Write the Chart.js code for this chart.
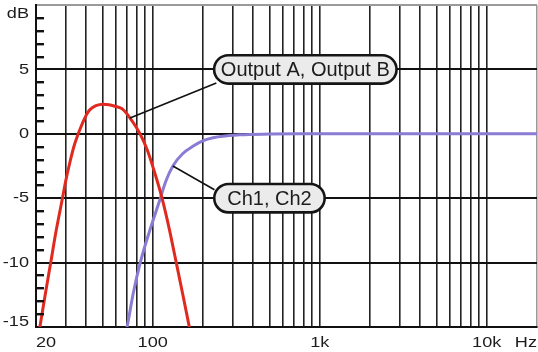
<!DOCTYPE html>
<html>
<head>
<meta charset="utf-8">
<script src="https://cdn.jsdelivr.net/npm/chart.js@4"></script>
<style>
  html, body { margin: 0; padding: 0; background: #ffffff; }
  canvas { display: block; }
</style>
</head>
<body>
<canvas id="fr" width="538" height="352"></canvas>
<script>
// Series names (also used as callout text)
const seriesNames = ['Output A, Output B', 'Ch1, Ch2'];

// Band-pass response of the outputs
const outFreq = [20, 21.1, 22.6, 24.5, 26.3, 28.8, 30.2, 32.0, 33.8, 35.8, 37.2, 38.8, 40.4, 42.1, 45.7, 50.4,
                 54.7, 59.4, 65.2, 70.1, 73.1, 76.2, 83.9, 92.4, 101.8, 113.2, 125.2, 137.8, 151.8, 165.6, 181.6];
const outDb   = [-16.9, -15, -12.65, -10, -7.65, -5, -3.6, -2.15, -0.95, 0, 0.55, 1.1, 1.55, 1.88, 2.18, 2.3,
                 2.26, 2.14, 1.96, 1.55, 1.22, 0.9, 0, -1.2, -2.85, -4.9, -7.3, -9.9, -12.55, -15, -17.6];

// High-pass response of the channels
const chFreq = [63.4, 70.2, 76.4, 84.2, 96, 110.5, 119.6, 132, 151, 175, 199, 230, 333, 504, 762, 1500, 20000];
const chDb   = [-17.5, -15, -12.4, -10, -7.5, -5.1, -3.7, -2.5, -1.55, -0.95, -0.55, -0.3, -0.08, -0.02, 0, 0, 0];

// Axis ticks and labels
const freqGrid   = [30, 40, 50, 60, 70, 80, 90, 100, 200, 300, 400, 500, 600, 700, 800, 900,
                    1000, 2000, 3000, 4000, 5000, 6000, 7000, 8000, 9000, 10000, 20000];
const freqLabelValues = [20, 100, 1000, 10000];
const freqLabels      = ['20', '100', '1k', '10k'];
const freqUnit = 'Hz';
const dbTicks  = [-15, -10, -5, 0, 5, 10];
const dbLabels = ['-15', '-10', '-5', '0', '5', 'dB'];

const INK = '#1c1c1c';
const EDGE = '#9a9a9a';

function pts(xs, ys) { return xs.map((x, i) => ({ x: x, y: ys[i] })); }

function stretchedText(ctx, text, x, y, align, sx) {
  ctx.save();
  ctx.translate(x, y);
  ctx.scale(sx, 1);
  ctx.textAlign = align;
  ctx.textBaseline = 'middle';
  ctx.fillText(text, 0, 0);
  ctx.restore();
}

// Axis labels and small 1 dB ticks inside the plot
const axisDecor = {
  id: 'axisDecor',
  afterDatasetsDraw(chart) {
    const { ctx, chartArea: a, scales: { y } } = chart;
    ctx.save();
    ctx.strokeStyle = '#111';
    ctx.lineWidth = 2.4;
    for (let v = -14; v <= 9; v++) {
      if (v % 5 === 0) continue;
      const py = Math.round(y.getPixelForValue(v)) + 0.2;
      ctx.beginPath();
      ctx.moveTo(a.left, py);
      ctx.lineTo(a.left + 8, py);
      ctx.stroke();
    }
    ctx.restore();
  },
  afterDraw(chart) {
    const { ctx, chartArea: a, scales: { x, y } } = chart;
    ctx.save();
    ctx.fillStyle = INK;
    ctx.font = '15.5px "Liberation Sans", Arial, sans-serif';
    const sx = 1.17;
    dbTicks.forEach((v, i) => {
      let py = y.getPixelForValue(v);
      py = Math.min(Math.max(py, a.top + 9), a.bottom - 5);
      stretchedText(ctx, dbLabels[i], a.left - 7, py, 'right', sx);
    });
    const ly = a.bottom + 15.5;
    freqLabelValues.forEach((v, i) => {
      const px = x.getPixelForValue(v);
      if (i === 0) stretchedText(ctx, freqLabels[i], a.left, ly, 'left', sx);
      else stretchedText(ctx, freqLabels[i], px, ly, 'center', sx);
    });
    stretchedText(ctx, freqUnit, a.right, ly, 'right', sx);
    ctx.restore();
  }
};

// Rounded label boxes with leader lines to the curves
const callouts = [
  { dataset: 0, pointIndex: 20, at: { x: 820, y: 5 },  w: 185, h: 31, lead: { dx: -89, dy: 13.5 } },
  { dataset: 1, pointIndex: 7,  at: { x: 500, y: -5 }, w: 113, h: 31, lead: { dx: -55, dy: -8.5 } }
];

const calloutPlugin = {
  id: 'callouts',
  afterDatasetsDraw(chart) {
    const { ctx, scales: { x, y } } = chart;
    ctx.save();
    callouts.forEach(c => {
      const p = chart.getDatasetMeta(c.dataset).data[c.pointIndex];
      const cx = x.getPixelForValue(c.at.x);
      const cy = y.getPixelForValue(c.at.y);
      // leader
      ctx.strokeStyle = '#111';
      ctx.lineWidth = 1.6;
      ctx.beginPath();
      ctx.moveTo(p.x, p.y);
      ctx.lineTo(cx + c.lead.dx, cy + c.lead.dy);
      ctx.stroke();
      // pill box
      const lw = 2.6;
      const w = c.w - lw, h = c.h - lw, r = h / 2;
      ctx.beginPath();
      ctx.roundRect(cx - w / 2, cy - h / 2, w, h, r);
      ctx.fillStyle = '#ebebeb';
      ctx.fill();
      ctx.lineWidth = lw;
      ctx.strokeStyle = '#151515';
      ctx.stroke();
      // text
      ctx.fillStyle = INK;
      ctx.font = '20px "Liberation Sans", Arial, sans-serif';
      ctx.textAlign = 'center';
      ctx.textBaseline = 'middle';
      ctx.fillText(chart.data.datasets[c.dataset].label, cx, cy + 1);
    });
    ctx.restore();
  }
};

new Chart(document.getElementById('fr'), {
  type: 'line',
  data: {
    datasets: [
      {
        label: seriesNames[0],
        data: pts(outFreq, outDb),
        borderColor: '#e02a1f',
        borderWidth: 3,
        pointRadius: 0,
        fill: false,
        cubicInterpolationMode: 'monotone',
        clip: 0,
        order: 0
      },
      {
        label: seriesNames[1],
        data: pts(chFreq, chDb),
        borderColor: '#8a7bd3',
        borderWidth: 3,
        pointRadius: 0,
        fill: false,
        cubicInterpolationMode: 'monotone',
        clip: 0,
        order: 1
      }
    ]
  },
  options: {
    responsive: false,
    animation: false,
    devicePixelRatio: 1,
    layout: { padding: { top: 5, right: 1, left: 0, bottom: 0 } },
    plugins: { legend: { display: false }, tooltip: { enabled: false } },
    scales: {
      x: {
        type: 'logarithmic',
        min: 20,
        max: 20000,
        afterBuildTicks: s => { s.ticks = freqGrid.map(v => ({ value: v })); },
        ticks: { display: false },
        grid: {
          drawTicks: false,
          color: c => (c.tick && c.tick.value === 20000 ? EDGE : '#222'),
          lineWidth: 1.6
        },
        border: { color: '#111', width: 2 },
        afterFit: s => { s.height = 25; }
      },
      y: {
        min: -15,
        max: 10,
        afterBuildTicks: s => { s.ticks = dbTicks.map(v => ({ value: v })); },
        ticks: { display: false },
        grid: {
          drawTicks: false,
          color: c => (c.tick && c.tick.value === 10 ? EDGE : '#111'),
          lineWidth: 2
        },
        border: { color: '#111', width: 2 },
        afterFit: s => { s.width = 36; }
      }
    }
  },
  plugins: [axisDecor, calloutPlugin]
});
</script>
</body>
</html>
